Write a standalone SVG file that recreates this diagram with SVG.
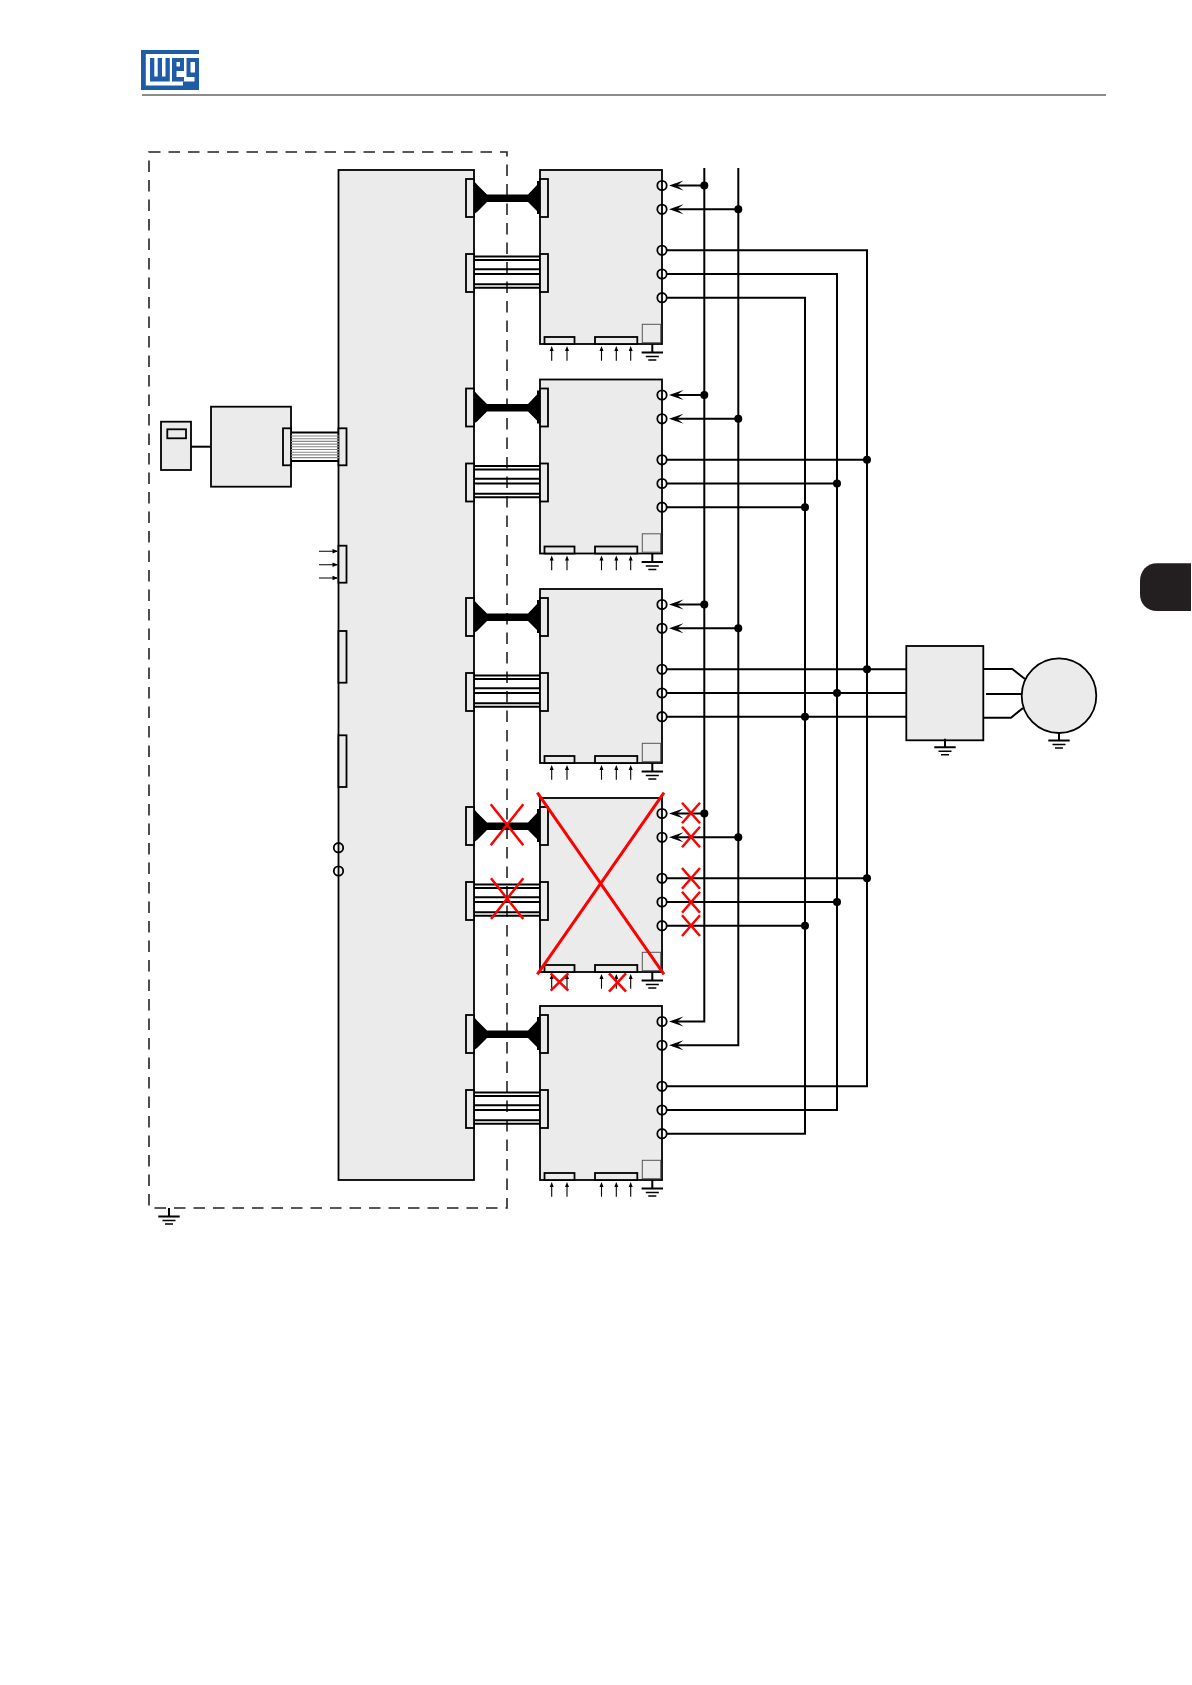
<svg xmlns="http://www.w3.org/2000/svg" width="1192" height="1685" viewBox="0 0 1192 1685">
<style>
.box{fill:#ebebeb;stroke:#000;stroke-width:1.8}
.thin{fill:#ebebeb;stroke:#555;stroke-width:1}
.w{fill:none;stroke:#000;stroke-width:2}
.t{fill:none;stroke:#000;stroke-width:1.1}
.g2{fill:none;stroke:#000;stroke-width:1.5}
.term{fill:none;stroke:#000;stroke-width:1.8}
.rib{fill:none;stroke:#000;stroke-width:1.9}
.hair{fill:none;stroke:#888;stroke-width:1.1}
.x{fill:none;stroke:#f00;stroke-width:2.5}
.X{fill:none;stroke:#f00;stroke-width:3}
.dash{fill:none;stroke:#222;stroke-width:1.6;stroke-dasharray:11.5 8}
.k{fill:#000}
.logo{fill:#1f5ca8}
</style>
<defs>
<g id="gnd">
<path class="w" d="M0 0V8.500M-10.700 8.500H10.700"/>
<path class="g2" d="M-6.500 12.500H6.500M-4 16H4"/>
</g>
<g id="mod">
<rect class="box" x="540" y="0" width="122" height="174"/>
<rect class="box" x="540" y="9" width="8" height="38"/>
<rect class="box" x="540" y="84" width="8" height="38"/>
<rect class="box" x="544.500" y="167" width="30" height="7"/>
<rect class="box" x="595" y="167" width="42.300" height="7"/>
<rect class="thin" x="642.300" y="154.300" width="18.400" height="18.400"/>
<g class="term">
<circle cx="662" cy="15.500" r="4.700"/><circle cx="662" cy="39.300" r="4.700"/><circle cx="662" cy="80.300" r="4.700"/><circle cx="662" cy="104" r="4.700"/><circle cx="662" cy="127.700" r="4.700"/>
</g>
<path class="t" d="M551.700 180V190.700M567 180V190.700M601.500 180V190.700M616.300 180V190.700M630.700 180V190.700"/>
<path class="k" d="M551.700 176l2 5h-4zM567 176l2 5h-4zM601.500 176l2 5h-4zM616.300 176l2 5h-4zM630.700 176l2 5h-4z"/>
<use href="#gnd" x="652.300" y="174"/>
</g>
<path id="head" class="k" d="M0 0l14.500 -5l-6.500 5l6.500 5z"/>
<g id="black">
<path class="k" d="M474 11L477 14.500L487 24.500H528L537 15V11H540V44H537V41L528 32H487L477 42L474 44Z"/>
</g>
<g id="ribbon">
<path class="rib" d="M474 86.500H540M474 90H540M474 99.300H540M474 104H540M474 114.300H540M474 117.700H540"/>
</g>
</defs>

<g id="logo">
<rect class="logo" x="141" y="50" width="58" height="40"/>
<rect x="145.800" y="54" width="53.200" height="31.500" fill="#fff"/>
<path class="logo" d="M150 58H154.300V76.500H157.700V58H162V76.500H165.500V58H169.800V81.500H150Z"/>
<path class="logo" fill-rule="evenodd" d="M172 58H184V71H176.500V77H184V81.500H172ZM176.500 62V66.500H180V62Z"/>
<path class="logo" fill-rule="evenodd" d="M186.500 58H199V86H183V81.500H194.500V77H186.500ZM190.500 62V72.500H195V62Z"/>
</g>
<path id="header-rule" d="M142 95H1106" stroke="#8c8c8c" stroke-width="2" fill="none"/>
<path id="page-tab" fill="#231f20" d="M1191 563.300H1157C1147 563.300 1140 571 1140 581V594C1140 604 1147 611 1157 611H1191Z"/>

<g id="enclosure">
<rect class="dash" x="149" y="152" width="358" height="1056"/>
<use href="#gnd" x="169" y="1208"/>
</g>

<g id="main-unit">
<rect class="box" x="338.500" y="170" width="135.500" height="1010"/>
<rect class="box" x="466" y="179" width="8" height="38"/>
<rect class="box" x="466" y="254" width="8" height="38"/>
<rect class="box" x="466" y="388.500" width="8" height="38"/>
<rect class="box" x="466" y="463.500" width="8" height="38"/>
<rect class="box" x="466" y="598" width="8" height="38"/>
<rect class="box" x="466" y="673" width="8" height="38"/>
<rect class="box" x="466" y="807" width="8" height="38"/>
<rect class="box" x="466" y="882" width="8" height="38"/>
<rect class="box" x="466" y="1015" width="8" height="38"/>
<rect class="box" x="466" y="1090" width="8" height="38"/>
<rect class="box" x="338.500" y="428.300" width="8" height="37"/>
<rect class="box" x="338.500" y="545.700" width="8" height="37"/>
<rect class="box" x="338.500" y="631" width="8" height="51.700"/>
<rect class="box" x="338.500" y="735.300" width="8" height="51.700"/>
<circle class="term" cx="338.500" cy="847.700" r="4.700"/>
<circle class="term" cx="338.500" cy="871" r="4.700"/>
</g>

<g id="keypad">
<rect class="box" x="161" y="421.700" width="30" height="48.300"/>
<rect class="box" x="167.300" y="429.300" width="18.700" height="9"/>
</g>
<g id="interface">
<rect class="box" x="211" y="406.700" width="80" height="80"/>
<rect class="box" x="283" y="428.300" width="8" height="37"/>
</g>

<g id="module-1" transform="translate(0 170)"><use href="#mod"/></g>
<g id="module-2" transform="translate(0 379.500)"><use href="#mod"/></g>
<g id="module-3" transform="translate(0 589)"><use href="#mod"/></g>
<g id="module-4" transform="translate(0 798)"><use href="#mod"/></g>
<g id="module-5" transform="translate(0 1006)"><use href="#mod"/></g>

<g id="filter">
<rect class="box" x="906.300" y="646" width="77" height="94.300"/>
<use href="#gnd" x="945" y="738.800"/>
</g>
<g id="motor">
<circle class="box" cx="1059" cy="695.700" r="37.300"/>
<use href="#gnd" x="1059" y="732"/>
</g>

<g id="connectors">
<path class="w" d="M191 446.700H211"/>
<path class="hair" d="M291 436H339M291 438.700H339M291 441.400H339M291 444.100H339M291 446.800H339M291 449.500H339M291 452.200H339M291 454.900H339M291 457.600H339"/>
<path fill="none" stroke="#000" stroke-width="2.200" d="M291 432.500H339M291 461H339"/>
<use href="#black" y="170"/><use href="#ribbon" y="170"/>
<use href="#black" y="379.500"/><use href="#ribbon" y="379.500"/>
<use href="#black" y="589"/><use href="#ribbon" y="589"/>
<use href="#black" y="798"/><use href="#ribbon" y="798"/>
<use href="#black" y="1006"/><use href="#ribbon" y="1006"/>
<path class="t" d="M319 551.300H337M319 564.700H337M319 578H337"/>
<path class="k" d="M338 551.300l-5.500 -2.200v4.400zM338 564.700l-5.500 -2.200v4.400zM338 578l-5.500 -2.200v4.400z"/>

<path class="w" d="M704.300 168V1021.500H676"/>
<path class="w" d="M738.300 168V1045.300H676"/>
<path class="w" d="M704.300 185.500H676M738.300 209.300H676M704.300 395H676M738.300 418.800H676M704.300 604.500H676M738.300 628.300H676M704.300 813.500H676M738.300 837.300H676"/>
<use href="#head" x="669" y="185.500"/><use href="#head" x="669" y="209.300"/>
<use href="#head" x="669" y="395"/><use href="#head" x="669" y="418.800"/>
<use href="#head" x="669" y="604.500"/><use href="#head" x="669" y="628.300"/>
<use href="#head" x="669" y="813.500"/><use href="#head" x="669" y="837.300"/>
<use href="#head" x="669" y="1021.500"/><use href="#head" x="669" y="1045.300"/>

<path class="w" d="M666.700 250.300H867V1086.300H666.700"/>
<path class="w" d="M666.700 274H837V1110H666.700"/>
<path class="w" d="M666.700 297.700H805V1133.700H666.700"/>
<path class="w" d="M666.700 459.800H867M666.700 483.500H837M666.700 507.200H805"/>
<path class="w" d="M666.700 669.300H906.300M666.700 693H906.300M666.700 716.700H906.300"/>
<path class="w" d="M666.700 878.300H867M666.700 902H837M666.700 925.700H805"/>
<g class="k">
<circle cx="704.300" cy="185.500" r="4"/><circle cx="738.300" cy="209.300" r="4"/>
<circle cx="704.300" cy="395" r="4"/><circle cx="738.300" cy="418.800" r="4"/>
<circle cx="704.300" cy="604.500" r="4"/><circle cx="738.300" cy="628.300" r="4"/>
<circle cx="704.300" cy="813.500" r="4"/><circle cx="738.300" cy="837.300" r="4"/>
<circle cx="867" cy="459.800" r="4"/><circle cx="837" cy="483.500" r="4"/><circle cx="805" cy="507.200" r="4"/>
<circle cx="867" cy="669.300" r="4"/><circle cx="837" cy="693" r="4"/><circle cx="805" cy="716.700" r="4"/>
<circle cx="867" cy="878.300" r="4"/><circle cx="837" cy="902" r="4"/><circle cx="805" cy="925.700" r="4"/>
</g>
<path class="w" d="M983.300 669H1012.300L1025 679M986 694H1022M983.300 717.700H1011L1023 708"/>
</g>

<g id="red-crosses">
<path class="X" d="M537.300 792.700L664 974.300M664 792.700L537.300 974.300"/>
<path class="x" d="M490.700 804.200L523.300 845.200M523.300 804.200L490.700 845.200"/>
<path class="x" d="M491 878.300L523.300 919M523.300 878.300L491 919"/>
<path class="x" d="M682 802.700L700 823.300M700 802.700L682 823.300"/>
<path class="x" d="M682 826.700L700 847.300M700 826.700L682 847.300"/>
<path class="x" d="M682 868L700 888.700M700 868L682 888.700"/>
<path class="x" d="M682 891.700L700 912.700M700 891.700L682 912.700"/>
<path class="x" d="M682 915.300L700 936M700 915.300L682 936"/>
<path class="x" d="M550.700 973.300L568.300 990.700M568.300 973.300L550.700 990.700"/>
<path class="x" d="M609 973.300L626 991.700M626 973.300L609 991.700"/>
</g>
</svg>
